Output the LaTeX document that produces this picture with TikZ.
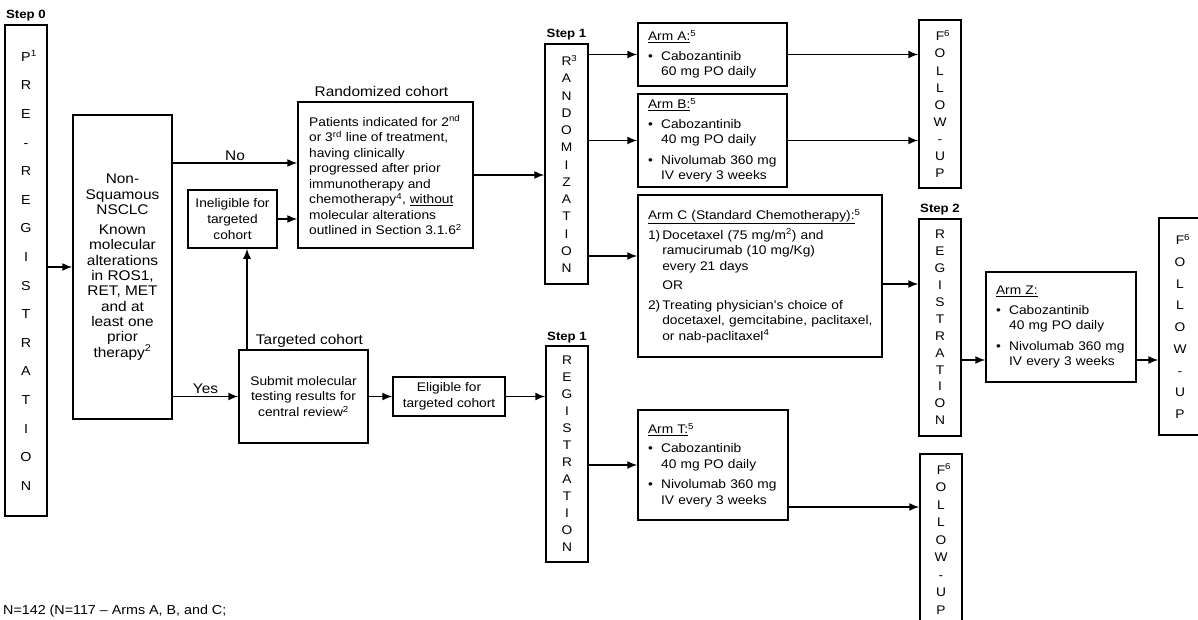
\documentclass[tikz,border=0pt]{standalone}
\usepackage{fontspec}
\setmainfont{Liberation Sans}[FakeStretch=1.1]
\usepackage{tikz}
\usetikzlibrary{arrows.meta, positioning, calc}

\tikzset{
  box/.style={draw, line width=1.5pt, inner sep=0pt, align=center, font=\fontsize{12.5}{15.5}\selectfont},
  vbox/.style={draw, line width=1.5pt, inner sep=0pt, align=center, minimum width=42pt},
  armbox/.style={draw, line width=1.5pt, inner xsep=10pt, inner ysep=0pt, align=left, font=\fontsize{12.5}{15.5}\selectfont},
  arr/.style={line width=1.5pt, -{Latex[length=10pt,width=8pt]}},
  steplbl/.style={font=\bfseries\fontsize{12}{12}\selectfont, inner sep=1pt},
  cohortlbl/.style={font=\fontsize{14}{14}\selectfont, inner sep=1pt},
  edgelbl/.style={font=\fontsize{14}{14}\selectfont, inner sep=2pt, above}
}
\newcommand{\armbul}{\textbullet\ \ }
\newcommand{\armind}{\hphantom{\textbullet\ \ }}

\begin{document}
\begin{tikzpicture}[x=1pt, y=-1pt]
\useasboundingbox (0,0) rectangle (1198,620);
\clip (0,0) rectangle (1198,620);

% Step 0: pre-registration
\node[vbox, minimum height=491pt, font=\fontsize{13}{28.6}\selectfont] (prereg) at (26,270.5)
  {P\rlap{\textsuperscript{1}}\\R\\E\\-\\R\\E\\G\\I\\S\\T\\R\\A\\T\\I\\O\\N};
\node[steplbl, above=2pt of prereg] (s0) {Step 0};

% Eligibility
\node[box, minimum width=99pt, minimum height=304pt, font=\fontsize{14}{15.3}\selectfont] (nsclc) at (122.5,267)
  {Non-\\Squamous\\NSCLC\\[5pt]Known\\molecular\\alterations\\in ROS1,\\RET, MET\\and at\\least one\\prior\\therapy\textsuperscript{2}};
\node[box, minimum width=89pt, minimum height=58pt, font=\fontsize{12.5}{16}\selectfont] (inelig) at (232.5,219)
  {Ineligible for\\targeted\\cohort};
\node[box, minimum width=129pt, minimum height=93pt] (submit) at (303.5,396.5)
  {Submit molecular\\testing results for\\central review\textsuperscript{2}};
\node[cohortlbl, above=1pt of submit, xshift=6pt] (lbltarg) {Targeted cohort};
\node[box, minimum width=112pt, minimum height=39pt, font=\fontsize{12.5}{16}\selectfont] (elig) at (449,396.5)
  {Eligible for\\targeted cohort};

% Randomized cohort
\node[box, align=left, minimum width=175pt, minimum height=146pt] (rand) at (385.5,175)
  {Patients indicated for 2\textsuperscript{nd}\\
   or 3\textsuperscript{rd} line of treatment,\\
   having clinically\\
   progressed after prior\\
   immunotherapy and\\
   chemotherapy\textsuperscript{4}, \underline{without}\\
   molecular alterations\\
   outlined in Section 3.1.6\textsuperscript{2}};
\node[cohortlbl, above=3pt of rand, xshift=-4pt] (lblrand) {Randomized cohort};

% Step 1
\node[vbox, minimum width=43pt, minimum height=240pt, font=\fontsize{12.5}{17.25}\selectfont] (rando) at (566.5,164)
  {R\rlap{\textsuperscript{3}}\\A\\N\\D\\O\\M\\I\\Z\\A\\T\\I\\O\\N};
\node[steplbl, above=2pt of rando] (s1a) {Step 1};
\node[vbox, minimum height=216pt, font=\fontsize{12.5}{17}\selectfont] (reg1) at (567,454)
  {R\\E\\G\\I\\S\\T\\R\\A\\T\\I\\O\\N};
\node[steplbl, above=1pt of reg1] (s1b) {Step 1};

% Arms
\node[armbox, text width=129pt, minimum height=63pt] (armA) at (712.5,54.5)
  {\underline{Arm A:}\textsuperscript{5}\\[4pt]
   \armbul Cabozantinib\\\armind 60 mg PO daily};
\node[armbox, text width=129pt, minimum height=93pt] (armB) at (712.5,140.5)
  {\underline{Arm B:}\textsuperscript{5}\\[4pt]
   \armbul Cabozantinib\\\armind 40 mg PO daily\\[5pt]
   \armbul Nivolumab 360 mg\\\armind IV every 3 weeks};
\node[armbox, text width=224pt, minimum height=162pt] (armC) at (760,276)
  {\underline{Arm C (Standard Chemotherapy):}\textsuperscript{5}\\[4pt]
   1)\,Docetaxel (75 mg/m\textsuperscript{2}) and\\
   \hphantom{1)\,}ramucirumab (10 mg/Kg)\\
   \hphantom{1)\,}every 21 days\\[4pt]
   \hphantom{1)\,}OR\\[4pt]
   2)\,Treating physician's choice of\\
   \mbox{\hphantom{2)\,}docetaxel, gemcitabine, paclitaxel,}\\
   \hphantom{2)\,}or nab-paclitaxel\textsuperscript{4}};
\node[armbox, text width=130pt, minimum height=110pt] (armT) at (713,465)
  {\underline{Arm T:}\textsuperscript{5}\\[4pt]
   \armbul Cabozantinib\\\armind 40 mg PO daily\\[5pt]
   \armbul Nivolumab 360 mg\\\armind IV every 3 weeks};

% Follow-up and Step 2
\node[vbox, minimum height=168pt, font=\fontsize{12.5}{17.1}\selectfont] (fu1) at (940,104)
  {F\rlap{\textsuperscript{6}}\\O\\L\\L\\O\\W\\-\\U\\P};
\node[vbox, minimum height=217pt, font=\fontsize{12.5}{16.9}\selectfont] (reg2) at (940,327.5)
  {R\\E\\G\\I\\S\\T\\R\\A\\T\\I\\O\\N};
\node[steplbl, above=2pt of reg2] (s2) {Step 2};
\node[vbox, minimum height=170pt, font=\fontsize{12.5}{17.5}\selectfont] (fu2) at (941,539)
  {F\rlap{\textsuperscript{6}}\\O\\L\\L\\O\\W\\-\\U\\P};
\node[armbox, text width=130pt, minimum height=110pt] (armZ) at (1061,327)
  {\underline{Arm Z:}\\[4pt]
   \armbul Cabozantinib\\\armind 40 mg PO daily\\[5pt]
   \armbul Nivolumab 360 mg\\\armind IV every 3 weeks};
\node[vbox, minimum height=217pt, font=\fontsize{12.5}{21.75}\selectfont] (fu3) at (1180,326.5)
  {F\rlap{\textsuperscript{6}}\\O\\L\\L\\O\\W\\-\\U\\P};

% Sample size
\node[anchor=west, font=\fontsize{13}{13}\selectfont, inner sep=0pt] (nsize) at (3,611)
  {N=142 (N=117 -- Arms A, B, and C;};

% Connectors
\draw[arr] (prereg.east |- nsclc) -- (nsclc);
\draw[arr] (nsclc.east |- 0,163) -- node[edgelbl] (no) {No} (rand.west |- 0,163);
\draw[arr] (nsclc.east |- submit) -- node[edgelbl] (yes) {Yes} (submit);
\draw[arr] (submit.north -| 247,0) -- (inelig.south -| 247,0);
\draw[arr] (inelig) -- (inelig -| rand.west);
\draw[arr] (submit) -- (elig);
\draw[arr] (elig) -- (elig -| reg1.west);
\draw[arr] (rand) -- (rand -| rando.west);
\foreach \a in {armA,armB} {
  \draw[arr] (\a -| rando.east) -- (\a);
  \draw[arr] (\a) -- (\a -| fu1.west);
}
\draw[arr] (rando.east |- 0,256) -- (armC.west |- 0,256);
\draw[arr] (armC.east |- 0,284) -- (reg2.west |- 0,284);
\draw[arr] (reg2.east |- 0,360) -- (armZ.west |- 0,360);
\draw[arr] (armZ.east |- 0,360) -- (fu3.west |- 0,360);
\draw[arr] (armT -| reg1.east) -- (armT);
\draw[arr] (armT.east |- 0,507) -- (fu2.west |- 0,507);
\end{tikzpicture}
\end{document}
